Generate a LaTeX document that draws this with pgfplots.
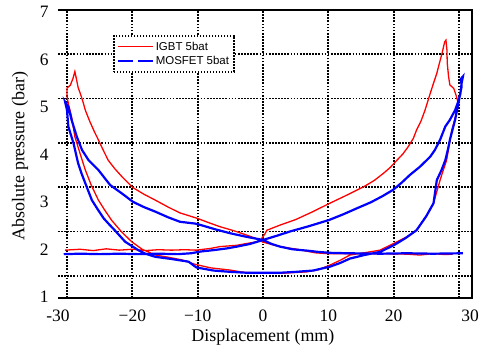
\documentclass[border=0pt]{standalone}
\usepackage{fontspec}
\setmainfont{Liberation Serif}
\newfontfamily\arialfont{Liberation Sans}
\usepackage{pgfplots}
\pgfplotsset{compat=1.18}
\begin{document}
\begin{tikzpicture}[x=1bp,y=1bp]
\begin{axis}[
  name=ax, at={(0,0)}, anchor=south west,
  scale only axis, width=414bp, height=288bp,
  xmin=-31.38, xmax=31.99, ymin=0.5, ymax=7,
  axis line style={draw=none},
  xtick={-30,-20,-10,0,10,20,30},
  xticklabels={\hspace*{-18bp}-30, −20, −10, 0, 10, 20, 30\hspace*{-22bp}},
  xticklabel style={font=\fontsize{17.5}{20}\selectfont, yshift=-8bp},
  ytick={1,2,3,4,5,6,7}, yticklabels={,,,,,,},
  extra y ticks={0.521,1.594,2.666,3.738,4.81,5.883,6.955},
  extra y tick labels={1,2,3,4,5,6,7},
  extra y tick style={grid=none, major tick length=0pt},
  yticklabel style={font=\fontsize{17.5}{20}\selectfont, xshift=-6bp},
  xmajorgrids, ymajorgrids,
  grid style={black, line width=1.7bp, dash pattern=on 1.7bp off 1.4bp},
  major tick length=2.5bp, tick style={black, line width=1bp},
  xlabel={Displacement (mm)},
  ylabel={Absolute pressure (bar)},
  xlabel style={at={(axis description cs:0.495,-0.135)}, anchor=center, font=\fontsize{18}{20}\selectfont},
  ylabel style={at={(axis description cs:-0.0918,0.493)}, anchor=center, font=\fontsize{18}{20}\selectfont},
  legend style={at={(0.133,0.913)}, anchor=north west, draw=black, line width=1.5bp,
    dash pattern=on 1.6bp off 1.4bp, fill=white, font=\arialfont\fontsize{11.5}{13}\selectfont,
    inner xsep=3bp, inner ysep=4bp, row sep=0.5bp, cells={anchor=west}},
  legend image code/.code={\draw[#1] (0bp,0bp) -- (35bp,0bp);},
]
\addplot[red, solid, line width=1.3bp] coordinates {
(-30.3,1.58) (-28,1.60) (-26,1.57) (-24,1.61) (-22,1.58) (-20,1.60) (-18,1.57) (-16,1.59) (-14,1.58) (-12,1.59)
(-10.2,1.58) (-8,1.62) (-6.6,1.66) (-4,1.69) (-2.5,1.73) (-0.5,1.78) (0.3,1.95) (0.6,2.03) (2.5,2.14) (5,2.27)
(7.5,2.44) (10.1,2.63) (12.8,2.82) (15.4,3.01) (17,3.15) (18.4,3.31) (19.5,3.45) (20.5,3.61) (21.4,3.75) (22.2,3.91)
(23,4.1) (23.5,4.29) (24.2,4.5) (24.8,4.74) (25.6,5.12) (26.1,5.35) (26.6,5.57) (27.0,5.8) (27.4,6.02) (27.8,6.28)
(28.0,6.32) (28.15,6.1) (28.2,5.8) (28.4,5.5) (28.6,5.31) (29.2,5.23) (29.6,5.05) (29.9,4.89) (29.7,4.74) (29.3,4.5)
(28.9,4.29) (28.5,3.95) (28.1,3.61) (27.6,3.39) (27.1,3.16) (26.6,2.9) (26.1,2.64) (25,2.35) (23.5,2.03) (22,1.88)
(20,1.73) (17.9,1.58) (15.5,1.52) (13.3,1.47) (11.8,1.35) (10.2,1.24) (8.5,1.14) (6.7,1.09) (3,1.06) (0,1.06)
(-3,1.08) (-5,1.13) (-8,1.18) (-10.4,1.26) (-12.4,1.36) (-14.5,1.42) (-16.5,1.47) (-18.5,1.6) (-20.1,1.77) (-21.7,2.0)
(-23.2,2.26) (-24.3,2.5) (-25.2,2.71) (-26.3,3.05) (-27.2,3.39) (-28,3.76) (-28.8,4.14) (-29.3,4.59) (-29.8,4.89) (-30,5.05)
(-30,5.24) (-29.5,5.3) (-29.1,5.45) (-28.8,5.61) (-28.5,5.4) (-28.3,5.25) (-28,5.13) (-27.6,4.95) (-27.2,4.74) (-26.5,4.48)
(-25.8,4.25) (-25.2,4.07) (-24.5,3.85) (-23.7,3.61) (-22.7,3.42) (-21.6,3.24) (-19.9,2.99) (-18.2,2.84) (-16.5,2.71) (-14.5,2.55)
(-12.7,2.42) (-10.1,2.30) (-8.3,2.2) (-6.6,2.11) (-4.5,2.02) (-2.5,1.92) (-1,1.84) (0,1.76) (2.6,1.66) (5.2,1.6)
(8,1.52) (10,1.5) (14,1.5) (18,1.5) (22,1.49) (24,1.47) (26,1.5) (28,1.48) (29,1.49)
};
\addlegendentry{IGBT 5bat}
\addlegendimage{blue, line width=2bp, dash pattern=on 15bp off 5bp}
\addlegendentry{MOSFET 5bat\hspace{10bp}}
\addplot[blue, solid, line width=2.2bp, forget plot] coordinates {
(-30.5,1.49) (-28,1.5) (-25,1.49) (-22,1.5) (-19,1.49) (-16,1.5) (-13,1.49) (-11,1.51) (-9.5,1.55) (-7.6,1.58)
(-5.5,1.62) (-4,1.66) (-2,1.72) (0,1.81) (2,1.9) (4.1,2.0) (7,2.12) (10.1,2.26) (12.3,2.39) (14.3,2.52)
(16.5,2.66) (18.3,2.8) (19.9,2.94) (21.2,3.1) (22.5,3.28) (24,3.46) (25.6,3.69) (26.3,3.84) (27.1,4.07) (27.9,4.37)
(28.6,4.52) (29.4,4.74) (29.8,4.9) (30.2,5.1) (30.4,5.35) (30.6,5.5) (30.3,5.45) (30.4,5.27) (30.1,5.05) (29.9,4.89)
(29.4,4.52) (28.6,4.07) (28.3,3.85) (27.9,3.61) (27.3,3.38) (26.6,3.16) (26.1,2.64) (25,2.35) (23.5,2.03) (21.8,1.85)
(20,1.69) (17.9,1.54) (15.5,1.47) (13.3,1.39) (11.8,1.29) (10.3,1.21) (7.7,1.12) (5,1.09) (2.6,1.07) (-2.5,1.07)
(-5,1.09) (-7.6,1.12) (-10.2,1.19) (-11.4,1.32) (-14,1.38) (-16.5,1.43) (-18,1.5) (-19.1,1.58) (-21.1,1.77) (-22.7,2.03)
(-23.6,2.17) (-24.4,2.30) (-25.3,2.5) (-26.2,2.71) (-27.2,3.09) (-27.8,3.32) (-28.3,3.54) (-29.0,3.99) (-29.8,4.37) (-30,4.74)
(-30.3,4.93) (-29.8,4.82) (-29.3,4.52) (-28.5,4.14) (-27.7,3.84) (-26.7,3.61) (-25.2,3.39) (-24.2,3.2) (-23.4,3.05) (-21.6,2.86)
(-19.9,2.67) (-18.2,2.55) (-16.5,2.45) (-14.5,2.32) (-12.7,2.22) (-10.4,2.18) (-9.6,2.15) (-7.3,2.05) (-5,1.96) (-2.5,1.88)
(0,1.81) (1.3,1.72) (2.6,1.66) (4.5,1.6) (6.7,1.57) (8.5,1.54) (10.2,1.52) (13,1.51) (18,1.5) (22,1.51) (26,1.5) (30.6,1.51)
};
\end{axis}
\draw[line width=1.5bp] (ax.south west) -- (ax.south east) -- (ax.north east) -- (ax.north west);
\pgfresetboundingbox
\path[use as bounding box] (-58,-54) rectangle (422,298);
\end{tikzpicture}
\end{document}
